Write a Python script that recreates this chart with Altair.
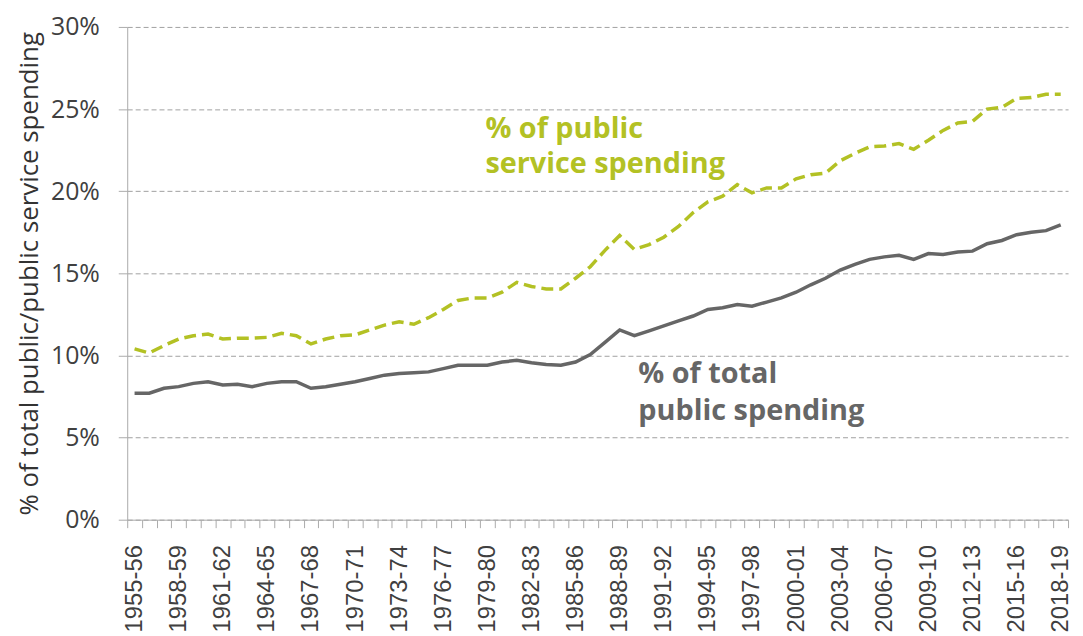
import altair as alt
import pandas as pd

start_years = list(range(1955, 2019))
years = [f"{y}-{str(y + 1)[-2:]}" for y in start_years]
shown_labels = years[::3]

total_public = [
    7.7, 7.7, 8.0, 8.1, 8.3, 8.4, 8.2, 8.25, 8.1, 8.3,
    8.4, 8.4, 8.0, 8.1, 8.25, 8.4, 8.6, 8.8, 8.9, 8.95,
    9.0, 9.2, 9.4, 9.4, 9.4, 9.6, 9.7, 9.55, 9.45, 9.4,
    9.6, 10.05, 10.8, 11.55, 11.2, 11.5, 11.8, 12.1, 12.4, 12.8,
    12.9, 13.1, 13.0, 13.25, 13.5, 13.85, 14.3, 14.7, 15.2, 15.55,
    15.85, 16.0, 16.1, 15.85, 16.2, 16.15, 16.3, 16.35, 16.8, 17.0,
    17.35, 17.5, 17.6, 17.95,
]
public_service = [
    10.4, 10.15, 10.6, 11.0, 11.2, 11.3, 11.0, 11.05, 11.05, 11.1,
    11.35, 11.2, 10.7, 11.0, 11.2, 11.25, 11.55, 11.85, 12.05, 11.9,
    12.3, 12.8, 13.35, 13.5, 13.5, 13.85, 14.45, 14.2, 14.05, 14.05,
    14.7, 15.4, 16.4, 17.3, 16.45, 16.75, 17.2, 17.85, 18.7, 19.35,
    19.7, 20.4, 19.9, 20.2, 20.2, 20.75, 21.0, 21.1, 21.85, 22.3,
    22.7, 22.75, 22.9, 22.55, 23.1, 23.7, 24.15, 24.25, 25.0, 25.1,
    25.65, 25.7, 25.9, 25.9,
]

gray = "#666666"
green = "#b3c124"

ann_service = pd.DataFrame({
    "year": ["1979-80", "1979-80"],
    "value": [23.25, 21.1],
    "text": ["% of public", "service spending"],
    "series": ["service", "service"],
})
ann_total = pd.DataFrame({
    "year": ["1989-90", "1989-90"],
    "value": [8.3, 6.1],
    "text": ["% of total", "public spending"],
    "series": ["total", "total"],
})

df = pd.DataFrame({
    "year": years + years,
    "value": total_public + public_service,
    "series": ["total"] * len(years) + ["service"] * len(years),
})

label_list = "[" + ",".join(f"'{s}'" for s in shown_labels) + "]"
label_expr = f"indexof({label_list}, datum.label) >= 0 ? datum.label : ''"

x_enc = alt.X(
    "year:N",
    scale=alt.Scale(type="band", domain=years, paddingInner=0, paddingOuter=0),
    axis=alt.Axis(
        title=None, labelAngle=270, labelExpr=label_expr, labelOverlap=False,
        tickBand="extent", tickSize=8, tickColor="#aaaaaa", domainColor="#aaaaaa",
        labelFont="Liberation Sans", labelFontSize=24, labelColor="#404040",
        labelPadding=17, grid=False,
    ),
)
y_enc = alt.Y(
    "value:Q",
    scale=alt.Scale(domain=[0, 30], nice=False),
    axis=alt.Axis(
        title="% of total public/public service spending", values=[0, 5, 10, 15, 20, 25, 30],
        format="d", labelExpr="datum.label + '%'",
        tickSize=9, tickColor="#aaaaaa", domainColor="#aaaaaa",
        labelFont="Open Sans", labelFontSize=25, labelColor="#404040", labelPadding=19,
        titleFont="Open Sans", titleFontSize=26, titleFontWeight="normal", titleColor="#333333",
        titlePadding=8, grid=True, gridColor="#a0a0a0", gridDash=[5, 3], gridWidth=1,
    ),
)
color_enc = alt.Color(
    "series:N", scale=alt.Scale(domain=["total", "service"], range=[gray, green]), legend=None
)

line_total = alt.Chart(df).transform_filter("datum.series == 'total'").mark_line(
    strokeWidth=3.5
).encode(x=x_enc, y=y_enc, color=color_enc)

line_service = alt.Chart(df).transform_filter("datum.series == 'service'").mark_line(
    strokeWidth=3.5, strokeDash=[12, 6]
).encode(x=alt.X("year:N"), y=alt.Y("value:Q"), color=color_enc)

text_service = alt.Chart(ann_service).mark_text(
    font="Open Sans", fontSize=29, fontWeight="bold", align="left", baseline="alphabetic", dx=-2
).encode(x=alt.X("year:N"), y=alt.Y("value:Q"), text="text:N", color=color_enc)

text_total = alt.Chart(ann_total).mark_text(
    font="Open Sans", fontSize=29, fontWeight="bold", align="left", baseline="alphabetic", dx=4
).encode(x=alt.X("year:N"), y=alt.Y("value:Q"), text="text:N", color=color_enc)

chart = alt.layer(line_total, line_service, text_service, text_total).properties(
    width=947, height=496,
    padding={"left": 8, "top": 5, "right": 2, "bottom": 0},
).configure_view(stroke=None)

chart.save("out.html", embed_options={"renderer": "svg", "actions": False})
